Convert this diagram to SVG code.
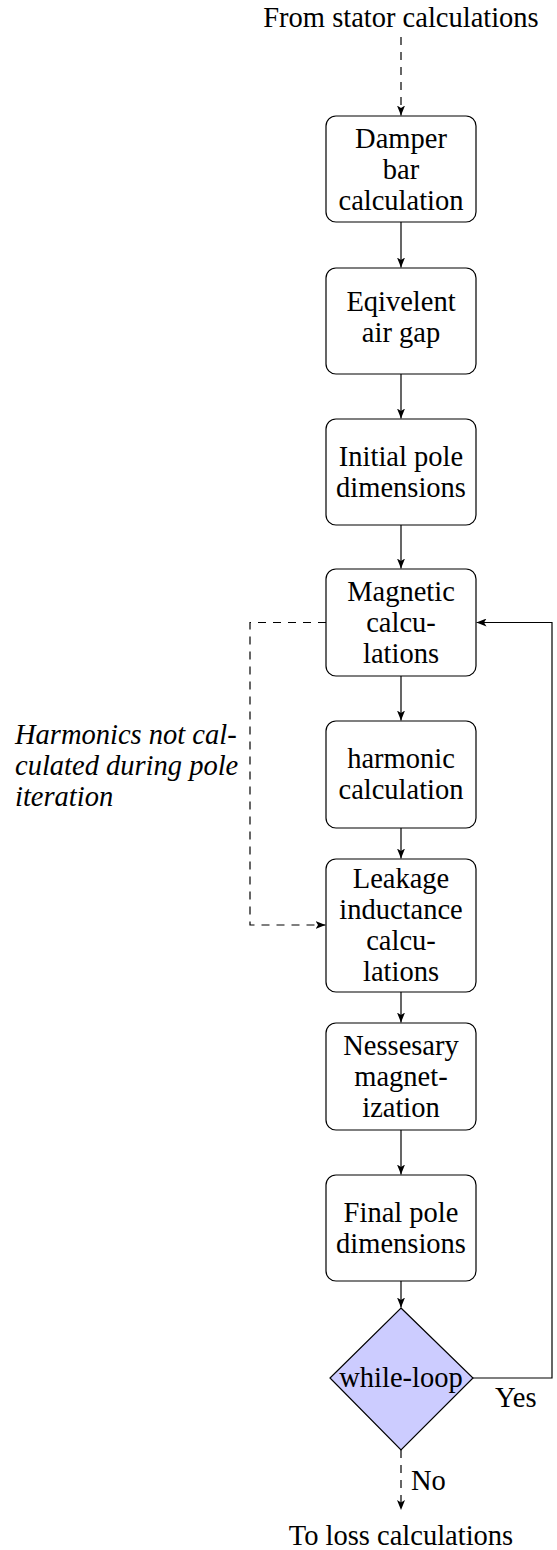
<svg xmlns="http://www.w3.org/2000/svg" width="557" height="1550" viewBox="0 0 557 1550">
  <style>
    text { font-family: "Liberation Serif", "DejaVu Serif", serif; font-size: 28.5px; fill: #000; }
    .c { text-anchor: middle; }
    .it { font-style: italic; }
    .box { fill: #fff; stroke: #000; stroke-width: 1.2; }
    .dec { fill: #ccccff; stroke: #000; stroke-width: 1.2; }
    .edge { fill: none; stroke: #000; stroke-width: 1.2; marker-end: url(#arr); }
    .dash { stroke-dasharray: 8 7; }
  </style>
  <defs>
    <marker id="arr" viewBox="0 0 10 8" refX="10" refY="4" markerWidth="10" markerHeight="8" markerUnits="userSpaceOnUse" orient="auto">
      <path d="M0,0 L10,4 L0,8 L2.5,4 Z" fill="#000"/>
    </marker>
  </defs>
  <rect width="557" height="1550" fill="#fff"/>

  <!-- connectors -->
  <g id="connectors">
    <path class="edge dash" d="M401,37 V115.5"/>
    <path class="edge" d="M401,222 V267.5"/>
    <path class="edge" d="M401,374 V418.5"/>
    <path class="edge" d="M401,525 V568.5"/>
    <path class="edge" d="M401,676 V720.5"/>
    <path class="edge" d="M401,828 V858.5"/>
    <path class="edge" d="M401,992 V1022.5"/>
    <path class="edge" d="M401,1130 V1174.5"/>
    <path class="edge" d="M401,1281 V1307.5"/>
    <path class="edge" d="M473,1378 H552 V622.5 H476.5"/>
    <path class="edge dash" d="M326,622.5 H250 V925 H325.5"/>
    <path class="edge dash" d="M401,1450 V1510"/>
    <text x="495" y="1407">Yes</text>
    <text x="411" y="1490">No</text>
  </g>

  <text class="c" x="401" y="27">From stator calculations</text>
  <text class="c" x="401" y="1545">To loss calculations</text>

  <g id="note">
    <text class="it" x="15" y="744">Harmonics not cal-</text>
    <text class="it" x="15" y="775">culated during pole</text>
    <text class="it" x="15" y="806">iteration</text>
  </g>

  <g id="damper">
    <rect class="box" x="326" y="116" width="150" height="106" rx="10"/>
    <text class="c" x="401" y="148">Damper</text>
    <text class="c" x="401" y="179">bar</text>
    <text class="c" x="401" y="210">calculation</text>
  </g>
  <g id="airgap">
    <rect class="box" x="326" y="268" width="150" height="106" rx="10"/>
    <text class="c" x="401" y="311">Eqivelent</text>
    <text class="c" x="401" y="342">air gap</text>
  </g>
  <g id="initialpole">
    <rect class="box" x="326" y="419" width="150" height="106" rx="10"/>
    <text class="c" x="401" y="465.5">Initial pole</text>
    <text class="c" x="401" y="496.5">dimensions</text>
  </g>
  <g id="magnetic">
    <rect class="box" x="326" y="569" width="150" height="107" rx="10"/>
    <text class="c" x="401" y="600.5">Magnetic</text>
    <text class="c" x="401" y="631.5">calcu-</text>
    <text class="c" x="401" y="662.5">lations</text>
  </g>
  <g id="harmonic">
    <rect class="box" x="326" y="721" width="150" height="107" rx="10"/>
    <text class="c" x="401" y="768">harmonic</text>
    <text class="c" x="401" y="799">calculation</text>
  </g>
  <g id="leakage">
    <rect class="box" x="326" y="859" width="150" height="133" rx="10"/>
    <text class="c" x="401" y="887.5">Leakage</text>
    <text class="c" x="401" y="918.5">inductance</text>
    <text class="c" x="401" y="949.5">calcu-</text>
    <text class="c" x="401" y="980.5">lations</text>
  </g>
  <g id="magnetization">
    <rect class="box" x="326" y="1023" width="150" height="107" rx="10"/>
    <text class="c" x="401" y="1054.5">Nessesary</text>
    <text class="c" x="401" y="1085.5">magnet-</text>
    <text class="c" x="401" y="1116.5">ization</text>
  </g>
  <g id="finalpole">
    <rect class="box" x="326" y="1175" width="150" height="106" rx="10"/>
    <text class="c" x="401" y="1221.5">Final pole</text>
    <text class="c" x="401" y="1252.5">dimensions</text>
  </g>
  <g id="whileloop">
    <polygon class="dec" points="401,1308 473,1378 401,1450 330,1378"/>
    <text class="c" x="401" y="1387">while-loop</text>
  </g>
</svg>
